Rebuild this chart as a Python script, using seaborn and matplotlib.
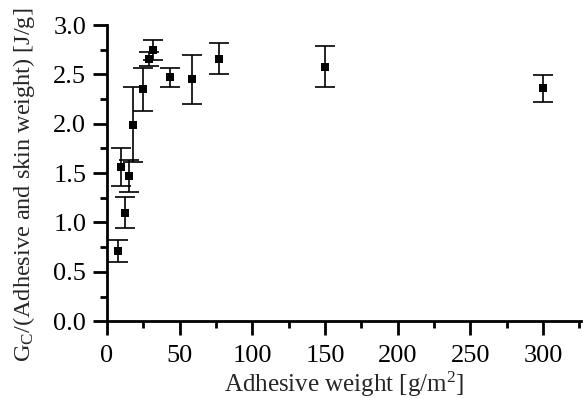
import matplotlib
matplotlib.use("Agg")
import matplotlib.pyplot as plt
import seaborn as sns
import pandas as pd
from matplotlib.ticker import MultipleLocator

adhesive_weight = [7.8, 9.9, 12.2, 15.1, 17.7, 25.0, 28.9, 31.9, 43.0, 58.3, 77.3, 150.0, 300.0]
gc_per_weight = [0.71, 1.56, 1.10, 1.47, 1.99, 2.35, 2.66, 2.75, 2.47, 2.45, 2.66, 2.58, 2.36]
gc_error = [0.11, 0.19, 0.16, 0.16, 0.38, 0.22, 0.07, 0.10, 0.10, 0.25, 0.16, 0.21, 0.135]

df = pd.DataFrame({"w": adhesive_weight, "g": gc_per_weight, "e": gc_error})

sns.set_style("ticks")
plt.rcParams["font.family"] = ["Liberation Serif", "DejaVu Serif"]
plt.rcParams["mathtext.fontset"] = "custom"
plt.rcParams["mathtext.rm"] = "Liberation Serif"
plt.rcParams["mathtext.it"] = "Liberation Serif"

fig = plt.figure(figsize=(5.85, 3.98), dpi=100)
ax = fig.add_axes([0.183, 0.193, 0.810, 0.744])

ax.errorbar(df["w"], df["g"], yerr=df["e"], fmt="none", ecolor="black",
            elinewidth=1.2, capsize=7.5, capthick=1.2, zorder=2)
sns.scatterplot(data=df, x="w", y="g", marker="s", s=36, color="black",
                edgecolor="black", linewidth=0, ax=ax, zorder=3, legend=False)

ax.set_xlim(0, 326)
ax.set_ylim(0, 3.0)
ax.xaxis.set_major_locator(MultipleLocator(50))
ax.xaxis.set_minor_locator(MultipleLocator(25))
ax.yaxis.set_major_locator(MultipleLocator(0.5))
ax.yaxis.set_minor_locator(MultipleLocator(0.25))
ax.yaxis.set_major_formatter(matplotlib.ticker.FormatStrFormatter("%.1f"))

for s in ["top", "right"]:
    ax.spines[s].set_visible(False)
for s in ["left", "bottom"]:
    ax.spines[s].set_linewidth(2)
    ax.spines[s].set_color("black")

ax.tick_params(which="major", direction="out", length=10, width=2, labelsize=19,
               colors="black")
ax.tick_params(axis="x", which="major", pad=7)
ax.tick_params(axis="y", which="major", pad=5)
ax.tick_params(which="minor", direction="out", length=5, width=2, colors="black")

ax.set_xlabel("Adhesive weight [g/m$^2$]", fontsize=18, labelpad=2)
ax.set_ylabel("G$_C$/(Adhesive and skin weight) [J/g]", fontsize=17.5)
ax.yaxis.set_label_coords(-0.148, 0.46)

fig.savefig("out.png", dpi=100)
